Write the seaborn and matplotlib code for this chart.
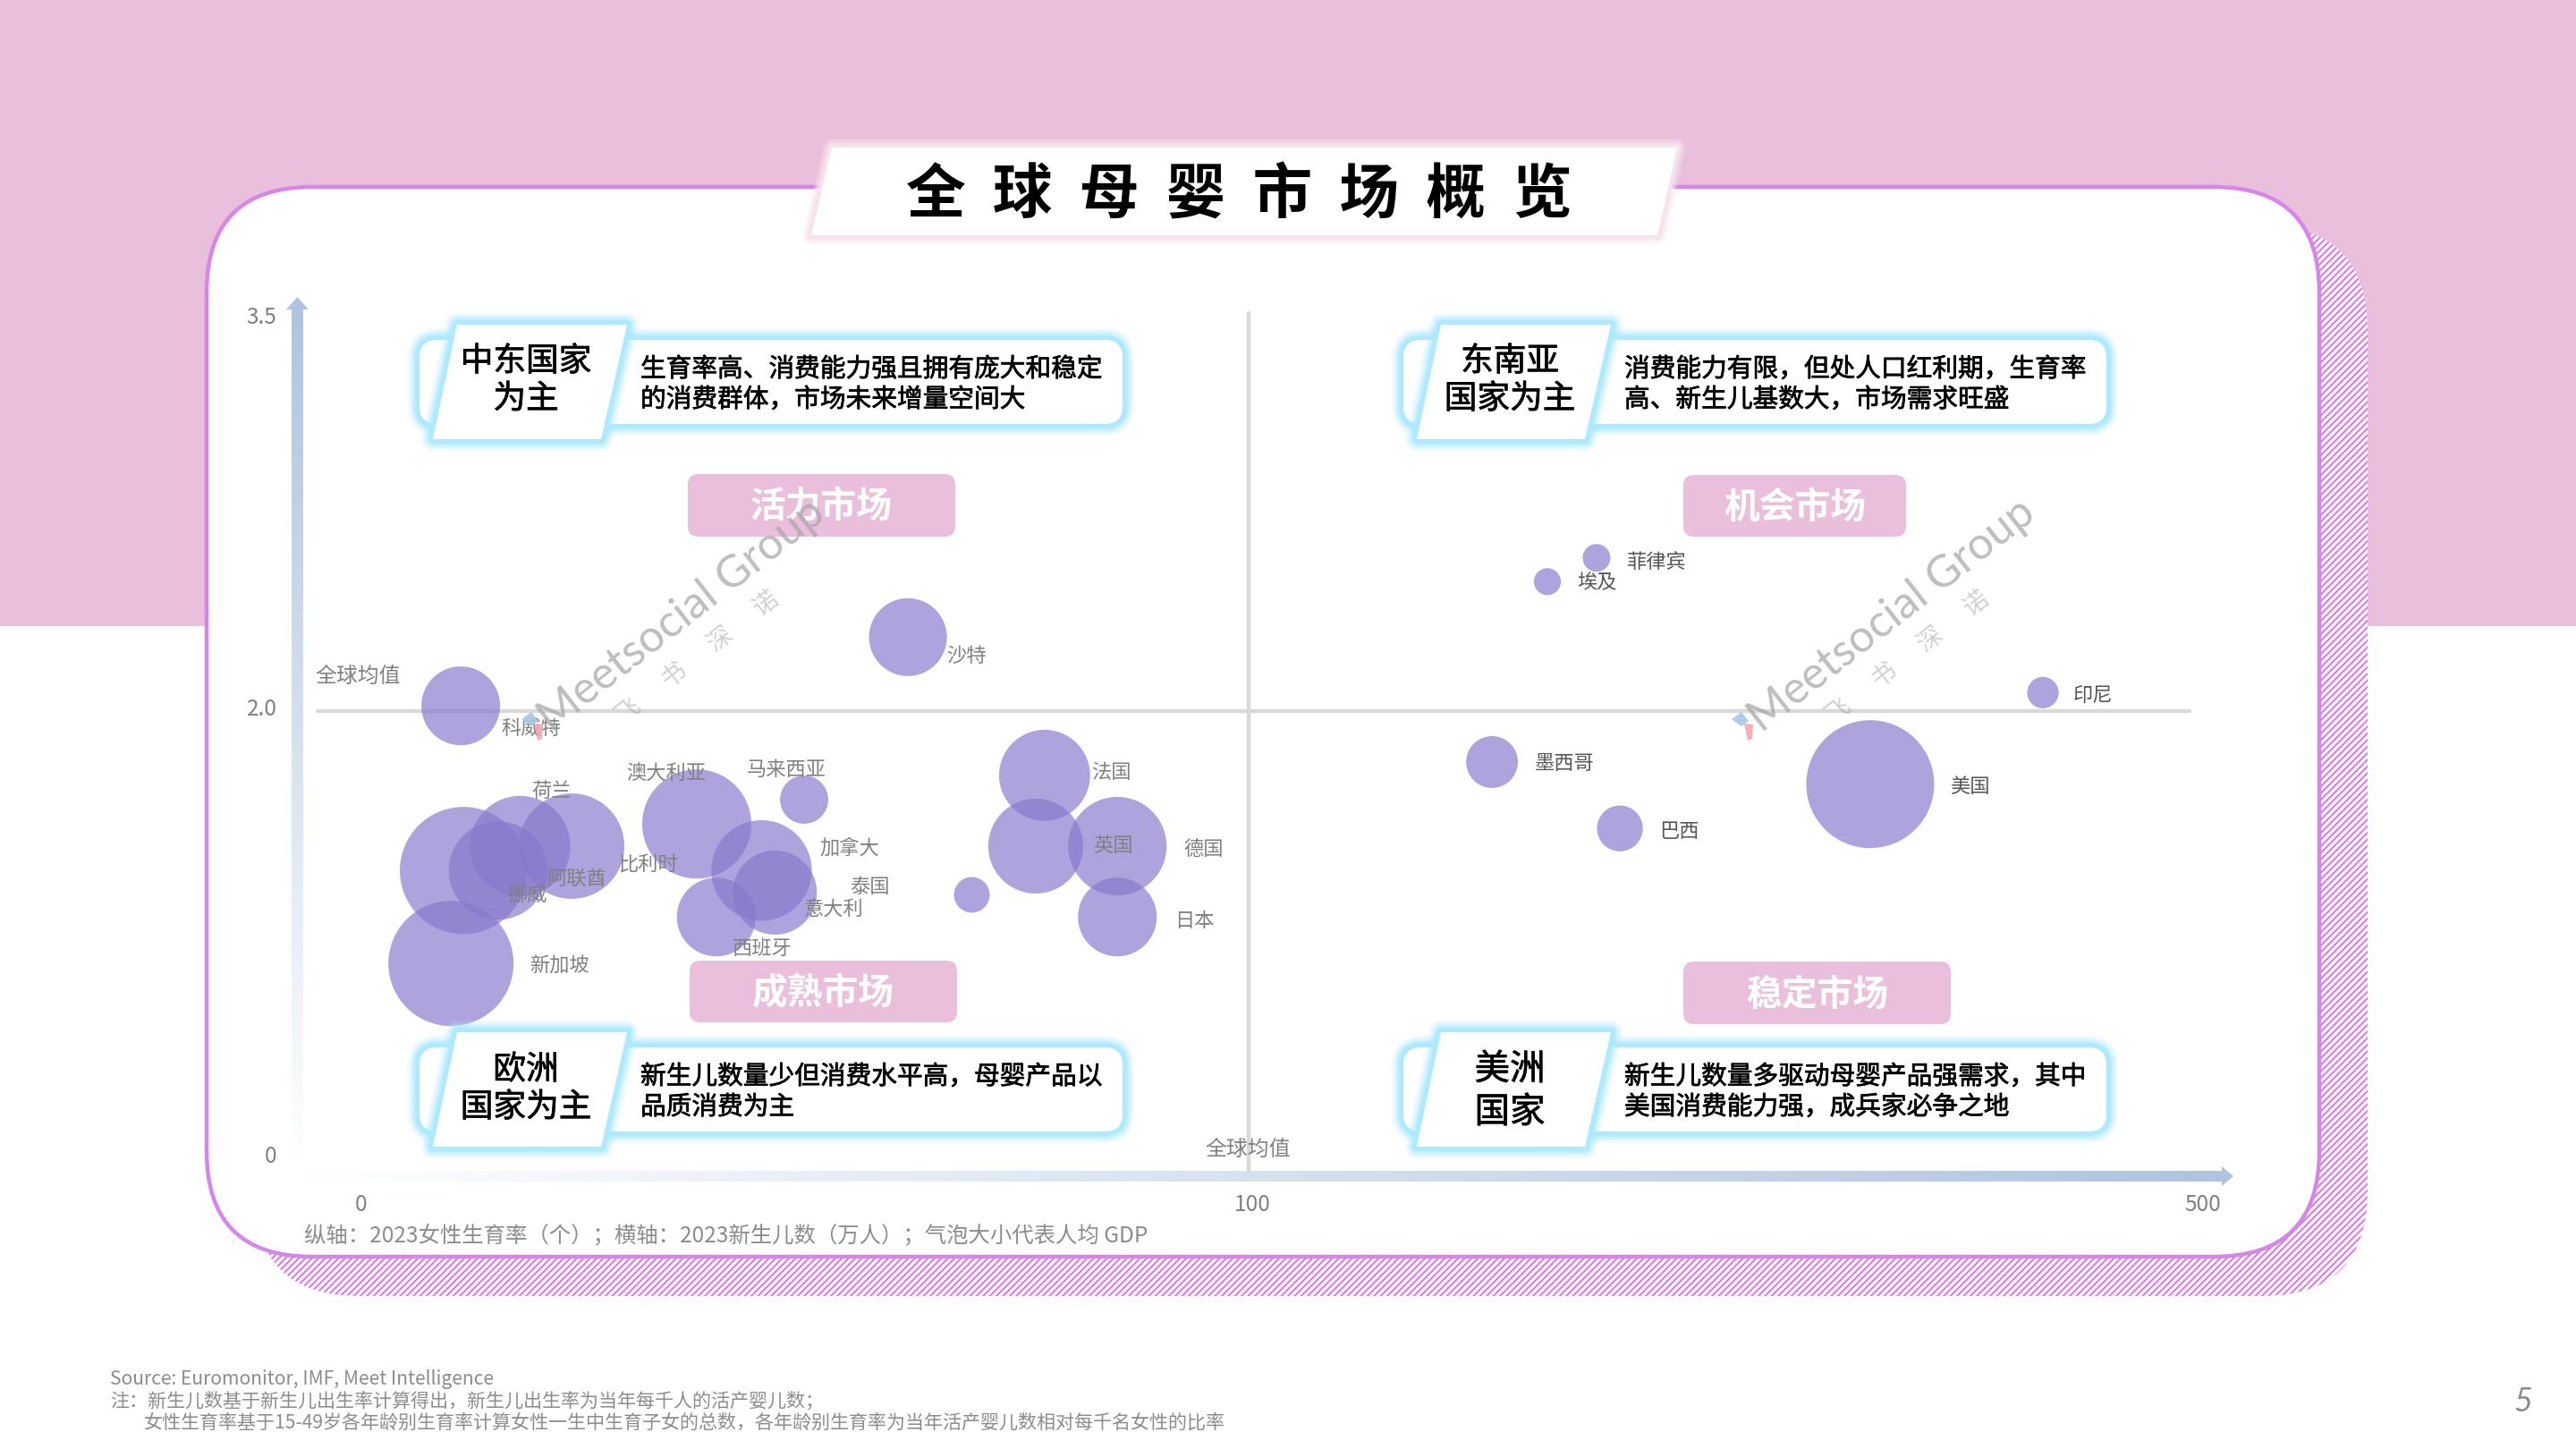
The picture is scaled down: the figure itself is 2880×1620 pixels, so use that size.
"""
plot.py
Slide: 全球母婴市场概览 (bubble quadrant chart)
"""

import numpy as np
import pandas as pd
import matplotlib
matplotlib.use("Agg")
import matplotlib.pyplot as plt
import matplotlib.patheffects as pe
from matplotlib.patches import FancyBboxPatch, Polygon, Rectangle
from matplotlib.transforms import ScaledTranslation
import seaborn as sns

# ── Data ─────────────────────────────────────────────────────────────────────
COUNTRIES = ["沙特", "科威特", "挪威", "荷兰", "比利时", "阿联酋", "新加坡", "澳大利亚",
             "马来西亚", "加拿大", "意大利", "西班牙", "泰国", "法国", "英国", "德国", "日本",
             "菲律宾", "埃及", "印尼", "墨西哥", "美国", "巴西"]
BIRTHS = [61.6, 11.2, 11.5, 17.9, 23.7, 15.4, 10.1, 37.8,
          49.9, 45.1, 46.6, 40.0, 68.8, 77.0, 76.0, 85.2, 85.2,
          245.8, 225.2, 432.9, 202.0, 360.5, 255.6]
FERTILITY = [2.28, 2.02, 1.28, 1.39, 1.39, 1.28, 0.86, 1.49,
             1.60, 1.28, 1.18, 1.07, 1.17, 1.71, 1.39, 1.39, 1.07,
             2.58, 2.49, 2.07, 1.77, 1.67, 1.47]
GDP_PER_CAPITA = [30.0, 30.7, 80.0, 50.0, 55.0, 48.0, 77.6, 59.0,
                  11.5, 50.0, 35.0, 30.7, 6.3, 41.0, 44.5, 48.0, 30.7,
                  3.8, 3.6, 4.9, 13.3, 81.0, 10.4]

X_TICKS = [0, 100, 500]
Y_TICKS = [0, 2.0, 3.5]
Y_TICK_LABELS = ["0", "2.0", "3.5"]
AVG_X = 100
AVG_Y = 2.0

# ── Layout (slide pixels) ────────────────────────────────────────────────────
W, H = 2880, 1620
PLOT_L, PLOT_R, PLOT_T, PLOT_B = 404, 2463, 352, 1290
X_FRAC = [0, 0.4818, 1]
Y_FRAC = [0, 0.5277, 1]
AREA_PER_GDP = 32.73

LABEL_XY = {
    "沙特": (1080, 733), "科威特": (594, 814), "挪威": (590, 1000), "荷兰": (617, 884),
    "比利时": (724, 967), "阿联酋": (645, 982), "新加坡": (625, 1080), "澳大利亚": (745, 864),
    "马来西亚": (879, 860), "加拿大": (950, 948), "意大利": (932, 1017), "西班牙": (852, 1060),
    "泰国": (972, 992), "法国": (1242, 863), "英国": (1244, 946), "德国": (1346, 950),
    "日本": (1335, 1029), "菲律宾": (1851, 628), "埃及": (1785, 652), "印尼": (2340, 777),
    "墨西哥": (1749, 854), "美国": (2202, 880), "巴西": (1877, 929),
}

PINK = "#eabfdc"
CARD_EDGE = "#d685ea"
HATCH = "#e070f0"
CYAN = "#aeeaff"
ARROW = "#aec4e0"
GRID = "#d9d9d9"
GREY = "#7f7f7f"

# dx, dy, heading lines, heading size, heading y offsets, body lines
CALLOUTS = [
    (0, 0, ["中东国家", "为主"], 13.2, (404, 446), ["生育率高、消费能力强且拥有庞大和稳定", "的消费群体，市场未来增量空间大"]),
    (1100, 0, ["东南亚", "国家为主"], 13.2, (404, 446), ["消费能力有限，但处人口红利期，生育率", "高、新生儿基数大，市场需求旺盛"]),
    (0, 791, ["欧洲", "国家为主"], 13.2, (405, 447), ["新生儿数量少但消费水平高，母婴产品以", "品质消费为主"]),
    (1100, 791, ["美洲", "国家"], 14.2, (405, 453), ["新生儿数量多驱动母婴产品强需求，其中", "美国消费能力强，成兵家必争之地"]),
]
PILLS = [
    ("活力市场", 769, 530, 299, 70),
    ("成熟市场", 771, 1074, 299, 69),
    ("机会市场", 1882, 531, 249, 69),
    ("稳定市场", 1882, 1075, 299, 70),
]
NOTES = [
    (123, 1542, "Source: Euromonitor, IMF, Meet Intelligence"),
    (123, 1566, "注：新生儿数基于新生儿出生率计算得出，新生儿出生率为当年每千人的活产婴儿数；"),
    (160, 1591, "女性生育率基于15-49岁各年龄别生育率计算女性一生中生育子女的总数，各年龄别生育率为当年活产婴儿数相对每千名女性的比率"),
]

sns.set_theme(style="white")
plt.rcParams["font.family"] = ["Noto Sans CJK SC", "DejaVu Sans"]
plt.rcParams["hatch.linewidth"] = 0.7

CYAN_GLOW = [(10, 0.1), (8.5, 0.15), (7, 0.25), (5.5, 0.4), (4, 0.7), (3, 1)]
HEAVY = [pe.withStroke(linewidth=0.25, foreground="black")]


def glow(ax, patch_fn, color, widths, zorder):
    """Soft outline: the same shape stroked several times, wide to narrow."""
    for lw, alpha in widths:
        ax.add_patch(patch_fn(fc="none", ec=color, lw=lw, alpha=alpha, zorder=zorder))


def rounded(x, y, w, h, r):
    def make(**kw):
        return FancyBboxPatch((x, y), w, h, boxstyle=f"round,pad=0,rounding_size={r}", **kw)
    return make


def polygon(pts):
    def make(**kw):
        return Polygon(pts, closed=True, joinstyle="round", **kw)
    return make


fig = plt.figure(figsize=(14.4, 8.1), dpi=200, facecolor="white")

# ── Background layer ─────────────────────────────────────────────────────────
bg = fig.add_axes([0, 0, 1, 1], zorder=0)
bg.axis("off")
bg.add_patch(Rectangle((0, 0), W, 700, fc=PINK, ec="none", zorder=1))

# hatched shadow and white card
bg.add_patch(rounded(284, 252, 2363, 1197, 118)(fc="white", ec=HATCH, hatch="/" * 9, lw=0, zorder=2))
bg.add_patch(rounded(231, 209, 2362, 1196, 118)(fc="white", ec=CARD_EDGE, lw=1.6, zorder=3))

# title tab
tab = [(930, 165), (1875, 165), (1853, 263), (907, 263)]
glow(bg, polygon(tab), "#f6e3ec", [(7, 0.25), (5.5, 0.35), (4, 0.6), (2.5, 1)], 4)
bg.add_patch(polygon(tab)(fc="white", ec="none", zorder=5))
bg.text(1385, 219, "全  球  母  婴  市  场  概  览", fontsize=24, fontweight="bold",
        color="black", ha="center", va="center", zorder=6)

# axis arrows with fading shafts
fade_y = np.linspace(0, 1, 256).reshape(-1, 1)
fade_cmap = matplotlib.colors.LinearSegmentedColormap.from_list("fade", ["white", ARROW])
bg.imshow(fade_y, extent=(326, 339, 1300, 345), origin="upper", cmap=fade_cmap.reversed(), aspect="auto", zorder=4)
bg.add_patch(Polygon([(332.5, 332), (345, 346), (320, 346)], fc=ARROW, ec="none", zorder=4))
fade_x = np.linspace(0, 1, 256).reshape(1, -1)
bg.imshow(fade_x, extent=(330, 2484, 1321, 1309), origin="upper", cmap=fade_cmap, aspect="auto", zorder=4)
bg.add_patch(Polygon([(2484, 1304), (2497, 1315), (2484, 1326)], fc=ARROW, ec="none", zorder=4))
bg.set_xlim(0, W)
bg.set_ylim(H, 0)

# ── Bubble axes ──────────────────────────────────────────────────────────────
df = pd.DataFrame({"country": COUNTRIES, "births": BIRTHS, "fertility": FERTILITY, "gdp": GDP_PER_CAPITA})

ax = fig.add_axes([PLOT_L / W, 1 - PLOT_B / H, (PLOT_R - PLOT_L) / W, (PLOT_B - PLOT_T) / H], zorder=1)
ax.patch.set_visible(False)
ax.set_xscale("function", functions=(lambda v: np.interp(v, X_TICKS, X_FRAC),
                                     lambda v: np.interp(v, X_FRAC, X_TICKS)))
ax.set_yscale("function", functions=(lambda v: np.interp(v, Y_TICKS, Y_FRAC),
                                     lambda v: np.interp(v, Y_FRAC, Y_TICKS)))

ax.axhline(AVG_Y, xmin=-0.0238, xmax=0.9927, color=GRID, lw=1.6, clip_on=False, zorder=1)
ax.axvline(AVG_X, ymin=-0.02, ymax=1.002, color=GRID, lw=1.6, clip_on=False, zorder=1)

sns.scatterplot(
    data=df, x="births", y="fertility", size="gdp",
    sizes=(df["gdp"].min() * AREA_PER_GDP, df["gdp"].max() * AREA_PER_GDP),
    color="#8878cc", alpha=0.68, linewidth=0, legend=False, clip_on=False, ax=ax, zorder=2,
)
ax.set_xlim(0, 500)
ax.set_ylim(0, 3.5)
ax.set_xticks(X_TICKS, [str(t) for t in X_TICKS])
ax.set_yticks(Y_TICKS, Y_TICK_LABELS)
ax.minorticks_off()
ax.tick_params(axis="x", length=0, pad=16, labelsize=8.8, labelcolor=GREY)
ax.tick_params(axis="y", length=0, pad=34, labelsize=8.8, labelcolor=GREY)
ax.set_xlabel("")
ax.set_ylabel("")
sns.despine(ax=ax, left=True, bottom=True)

# the printed 100 and 2.0 sit a little off their gridlines
lbl = ax.get_xticklabels()[1]
lbl.set_transform(lbl.get_transform() + ScaledTranslation(4 / 200, 0, fig.dpi_scale_trans))
lbl = ax.get_yticklabels()[1]
lbl.set_transform(lbl.get_transform() + ScaledTranslation(0, 5 / 200, fig.dpi_scale_trans))

# ── Foreground layer ─────────────────────────────────────────────────────────
fg = fig.add_axes([0, 0, 1, 1], zorder=2)
fg.axis("off")
fg.patch.set_visible(False)
fg.set_xlim(0, W)
fg.set_ylim(H, 0)

for name in COUNTRIES:
    x, y = LABEL_XY[name]
    right_side = x > 1396
    fg.text(x, y, name, fontsize=8, color="#555555" if right_side else "#808080",
            ha="center", va="center", zorder=3)

fg.text(400, 756, "全球均值", fontsize=8.6, color="#808080", ha="center", va="center", zorder=3)
fg.text(1395, 1285, "全球均值", fontsize=8.6, color="#808080", ha="center", va="center", zorder=3)

# callouts
for dx, dy, head, head_size, head_y, body in CALLOUTS:
    y_top = 380 + dy
    make_rect = rounded(469 + dx, y_top, 786, 94, 20)
    glow(fg, make_rect, CYAN, CYAN_GLOW, 4)
    fg.add_patch(make_rect(fc="white", ec="none", zorder=5))
    make_para = polygon([(511 + dx, 363 + dy), (701 + dx, 363 + dy),
                         (672 + dx, 491 + dy), (484 + dx, 491 + dy)])
    glow(fg, make_para, CYAN, CYAN_GLOW, 6)
    fg.add_patch(make_para(fc="white", ec="none", zorder=7))
    fg.text(588 + dx, head_y[0] + dy, head[0], fontsize=head_size, color="black",
            ha="center", va="center", zorder=8, path_effects=HEAVY)
    fg.text(588 + dx, head_y[1] + dy, head[1], fontsize=head_size, color="black",
            ha="center", va="center", zorder=8, path_effects=HEAVY)
    fg.text(716 + dx, 413 + dy, body[0], fontsize=10.33, color="black",
            ha="left", va="center", zorder=8, path_effects=HEAVY)
    fg.text(716 + dx, 447 + dy, body[1], fontsize=10.33, color="black",
            ha="left", va="center", zorder=8, path_effects=HEAVY)

# quadrant names
for name, x, y, w, h in PILLS:
    fg.add_patch(rounded(x, y, w, h, 12)(fc=PINK, ec="none", zorder=8))
    fg.text(x + w / 2, y + h / 2 + 2, name, fontsize=14.3, fontweight="bold", color="white",
            ha="center", va="center", zorder=9)

# watermarks
for dx in (0, 1353):
    fg.text(762 + dx, 688, "Meetsocial Group", fontsize=18, family="Lato",
            color="#a8a8a8", alpha=0.75, rotation=38, rotation_mode="anchor",
            ha="center", va="center", zorder=10)
    fg.text(780 + dx, 735, "飞      书      深      诺", fontsize=10, color="#9a9a9a", alpha=0.45,
            rotation=38, rotation_mode="anchor", ha="center", va="center", zorder=10)
    fg.add_patch(Polygon([(583 + dx, 804), (594 + dx, 796), (602 + dx, 806), (594 + dx, 812)],
                         fc="#a9c6e8", ec="none", alpha=0.9, zorder=10))
    fg.add_patch(Polygon([(597 + dx, 809), (607 + dx, 810), (606 + dx, 826), (601 + dx, 828)],
                         fc="#f4a6b0", ec="none", alpha=0.9, zorder=10))

# footer
fg.text(340, 1381, "纵轴：2023女性生育率（个）；横轴：2023新生儿数（万人）；气泡大小代表人均 GDP",
        fontsize=8.8, color="#8c8c8c", ha="left", va="center", zorder=3)
for x, y, line in NOTES:
    fg.text(x, y, line, fontsize=7.58, color="#8c8c8c", ha="left", va="center", zorder=3)
fg.text(2821, 1567, "5", fontsize=13, family="Lato", style="italic", color="#8c8c8c",
        ha="center", va="center", zorder=3)

plt.savefig("out.png", dpi=200, facecolor="white")
plt.close()
print("[OK] out.png")
